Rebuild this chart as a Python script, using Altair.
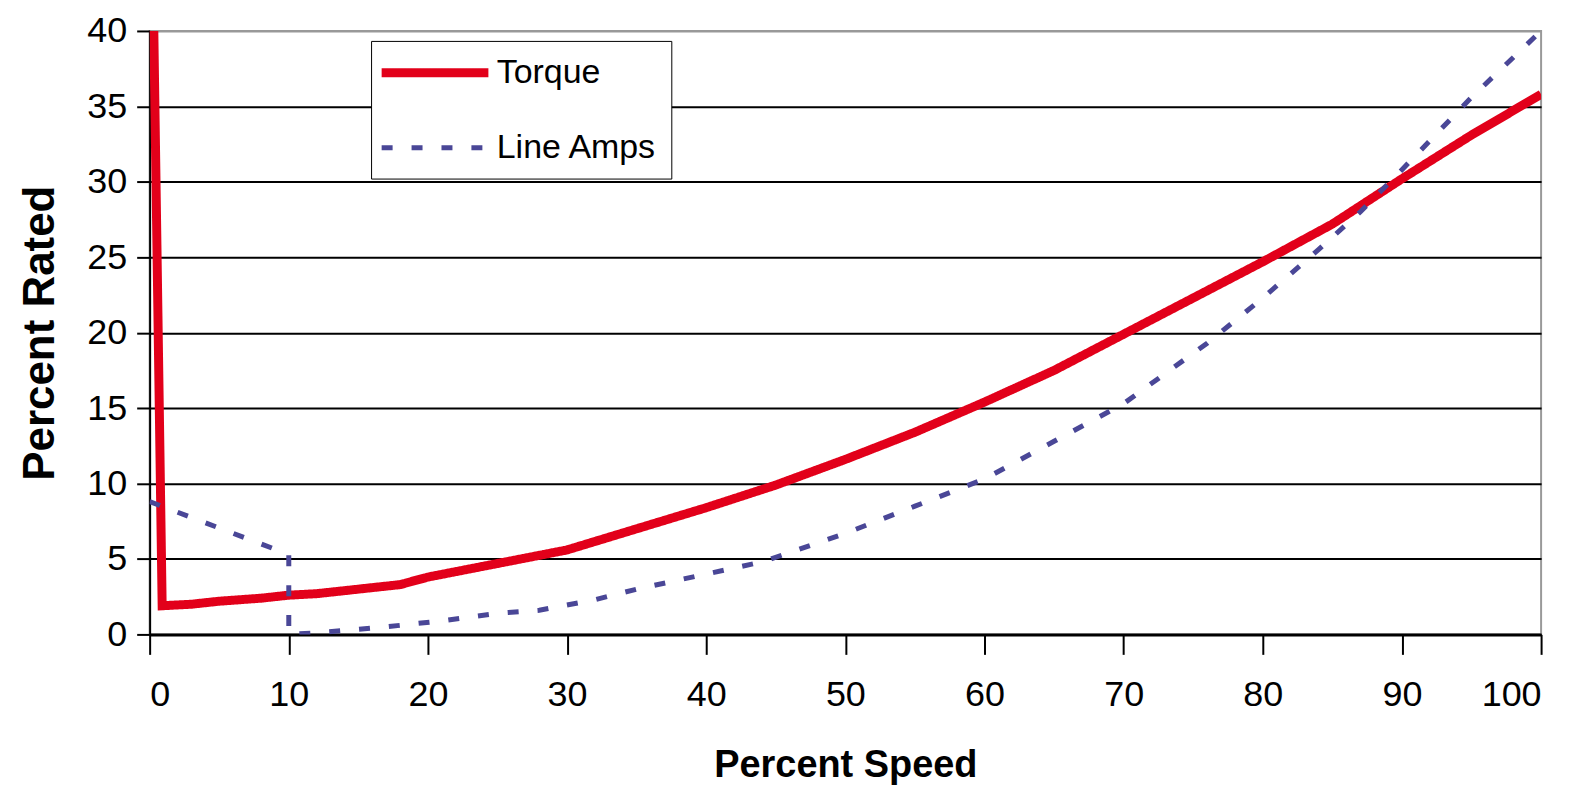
import altair as alt
import pandas as pd

torque_x = [0.3, 0.9, 3, 5, 8, 10, 12, 15, 18, 20, 25, 30, 35, 40, 45, 50, 55, 60, 65, 70, 75, 80, 85, 90, 95, 100]
torque_y = [40, 1.9, 2.0, 2.2, 2.4, 2.6, 2.7, 3.0, 3.3, 3.8, 4.7, 5.6, 7.0, 8.4, 9.9, 11.6, 13.4, 15.4, 17.5, 19.9, 22.3, 24.7, 27.2, 30.2, 33.1, 35.8]

amps_x = [0, 10, 10, 12, 17, 21, 25, 28, 32, 35, 40, 44, 50, 55, 60, 65, 70, 76, 80, 84, 87, 90, 95, 100]
amps_y = [8.8, 5.3, 0, 0.1, 0.5, 0.9, 1.4, 1.6, 2.3, 3.0, 4.0, 4.8, 6.7, 8.5, 10.3, 12.8, 15.3, 19.3, 22.3, 25.5, 28.0, 30.8, 35.6, 40]

series = ["Torque", "Line Amps"]

rows = []
for i, (x, y) in enumerate(zip(torque_x, torque_y)):
    rows.append({"speed": x, "rated": y, "series": series[0], "i": i})
for i, (x, y) in enumerate(zip(amps_x, amps_y)):
    rows.append({"speed": x, "rated": y, "series": series[1], "i": i})
df = pd.DataFrame(rows)

font = "Liberation Sans"

legend = alt.Legend(
    title=None, orient="none", legendX=222, legendY=10,
    fillColor="white", strokeColor="black", padding=14,
    symbolType="M-1.6,0H6.4", symbolSize=716, labelFontSize=34, labelFont=font,
    labelColor="black", labelOffset=76, rowPadding=40, labelLimit=400,
)

chart = alt.Chart(df).mark_line(clip=True).encode(
    x=alt.X("speed:Q", scale=alt.Scale(domain=[0, 100], nice=False),
            axis=alt.Axis(values=list(range(0, 101, 10)), title="Percent Speed", grid=False,
                          tickSize=20, tickColor="black", tickWidth=2, domainColor="black", domainWidth=3,
                          labelFontSize=36, labelFont=font, labelColor="black", labelPadding=23,
                          titleFontSize=38, titleFont=font, titleFontWeight="bold", titleColor="black",
                          titlePadding=34)),
    y=alt.Y("rated:Q", scale=alt.Scale(domain=[0, 40], nice=False),
            axis=alt.Axis(values=list(range(0, 41, 5)), title="Percent Rated",
                          gridColor={"condition": {"test": "datum.value == 40", "value": "#999999"}, "value": "black"},
                          gridWidth=2, tickSize=13, tickColor="black", tickWidth=2,
                          domainColor="black", domainWidth=2,
                          labelFontSize=36, labelFont=font, labelColor="black", labelPadding=10,
                          titleFontSize=44, titleFont=font, titleFontWeight="bold", titleColor="black",
                          titlePadding=24)),
    color=alt.Color("series:N", scale=alt.Scale(domain=series, range=["#e2001a", "#4a4797"]), legend=legend),
    strokeDash=alt.StrokeDash("series:N", scale=alt.Scale(domain=series, range=[[1, 0], [11, 19]]), legend=legend),
    strokeWidth=alt.StrokeWidth("series:N", scale=alt.Scale(domain=series, range=[9, 5]), legend=legend),
    order="i:Q",
).properties(
    width=1395, height=605,
    autosize=alt.AutoSizeParams(type="none"),
    padding={"left": 142, "top": 22, "right": 36, "bottom": 160},
).configure_view(stroke="#999999", strokeWidth=2)

chart.save("out.html", embed_options={"renderer": "svg", "actions": False})
